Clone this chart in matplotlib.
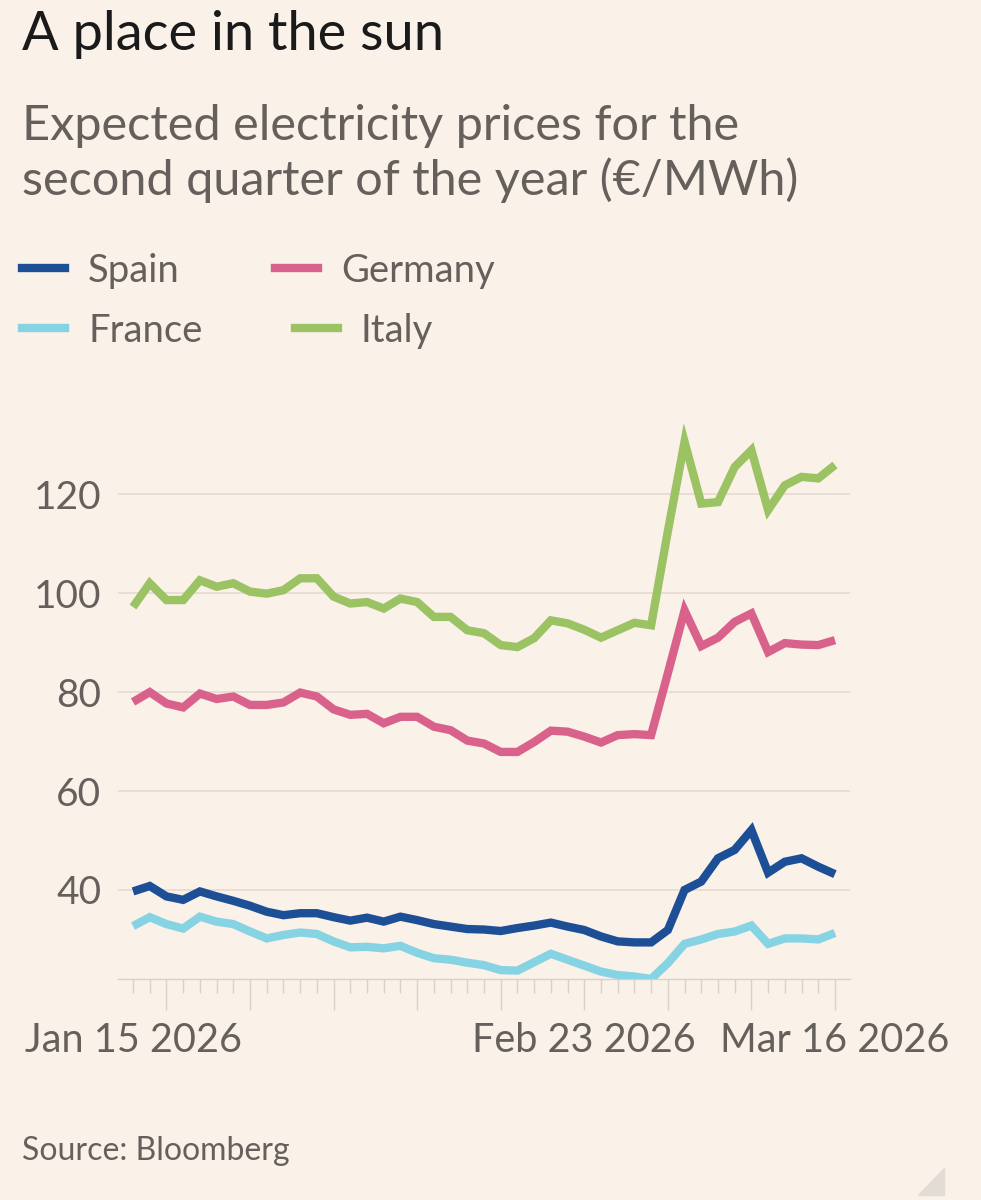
import matplotlib.pyplot as plt
from matplotlib.patches import Polygon
import pandas as pd

# business days Jan 15 - Mar 16 2026
dates = pd.bdate_range("2026-01-15", "2026-03-16")
x = list(range(len(dates)))

spain = [39.7, 40.8, 38.7, 38.0, 39.7, 38.7, 37.8, 36.8, 35.6, 34.9,
         35.3, 35.3, 34.5, 33.8, 34.4, 33.6, 34.6, 33.9, 33.1, 32.6,
         32.1, 32.0, 31.7, 32.3, 32.8, 33.4, 32.6, 31.9, 30.6, 29.6,
         29.4, 29.4, 31.9, 40.0, 41.7, 46.4, 48.1, 52.1, 43.5, 45.7,
         46.4, 44.7, 43.2]
france = [32.7, 34.5, 33.1, 32.2, 34.6, 33.6, 33.1, 31.6, 30.2, 30.9,
          31.4, 31.1, 29.6, 28.4, 28.5, 28.2, 28.7, 27.3, 26.2, 25.9,
          25.3, 24.8, 23.8, 23.7, 25.4, 27.1, 25.9, 24.7, 23.5, 22.8,
          22.5, 22.0, 25.2, 29.1, 30.0, 31.1, 31.6, 32.8, 29.1, 30.2,
          30.2, 30.0, 31.3]
germany = [78.0, 80.0, 77.7, 76.9, 79.7, 78.6, 79.1, 77.4, 77.4, 77.9,
           79.9, 79.1, 76.5, 75.4, 75.6, 73.7, 75.0, 75.0, 73.0, 72.3,
           70.2, 69.6, 67.9, 67.9, 69.9, 72.2, 72.0, 71.0, 69.8, 71.3,
           71.5, 71.3, 83.8, 96.5, 89.3, 91.0, 94.2, 95.9, 88.1, 89.9,
           89.6, 89.5, 90.5]
italy = [97.2, 102.0, 98.6, 98.6, 102.6, 101.3, 102.0, 100.3, 99.9, 100.6,
         103.0, 103.0, 99.3, 97.9, 98.2, 96.9, 98.9, 98.2, 95.2, 95.2,
         92.5, 91.9, 89.5, 89.1, 90.9, 94.5, 93.9, 92.6, 91.0, 92.5,
         94.0, 93.5, 112.5, 130.6, 118.1, 118.4, 125.5, 128.9, 116.8, 121.8,
         123.5, 123.2, 125.9]

series = ["Spain", "France", "Germany", "Italy"]
colors = {"Spain": "#1d4f96", "France": "#86d3e3",
          "Germany": "#d9628c", "Italy": "#9bc263"}
values = {"Spain": spain, "France": france, "Germany": germany, "Italy": italy}

yticks = [40, 60, 80, 100, 120]
xlabels = {0: "Jan 15 2026", 27: "Feb 23 2026", 42: "Mar 16 2026"}

BG = "#faf1e8"
GREY = "#66605c"
W, H = 981, 1200
plt.rcParams["font.family"] = ["Lato", "DejaVu Sans"]

fig = plt.figure(figsize=(W / 100, H / 100), dpi=100, facecolor=BG)


def fx(px):
    return px / W


def fy(py):
    return 1 - py / H


ax = fig.add_axes([fx(118), fy(979), fx(850) - fx(118), fy(420) - fy(979)])
ax.set_facecolor(BG)

for name in ["Germany", "Italy", "France", "Spain"]:
    ax.plot(x, values[name], color=colors[name], lw=6, solid_joinstyle="miter",
            solid_capstyle="butt", zorder=3)

ax.set_xlim(-0.9, 42.9)
ax.set_ylim(22, 135)
ax.set_yticks(yticks)
ax.set_yticklabels([str(v) for v in yticks], fontsize=28, color=GREY)
ax.tick_params(axis="y", length=0, pad=12)
ax.grid(axis="y", color="#e8ddd3", lw=1.3)
ax.set_axisbelow(True)

mondays = [i for i, d in enumerate(dates) if d.weekday() == 0]
ax.set_xticks(mondays)
ax.set_xticks(x, minor=True)
ax.set_xticklabels([])
ax.tick_params(axis="x", which="major", length=22, width=1, color="#d9d0c8")
ax.tick_params(axis="x", which="minor", length=10, width=1, color="#d9d0c8")

for s in ["top", "right", "left"]:
    ax.spines[s].set_visible(False)
ax.spines["bottom"].set_color("#d9d0c8")
ax.spines["bottom"].set_linewidth(1)

trans = ax.get_xaxis_transform()
for i, lab in xlabels.items():
    ax.text(i, -0.13, lab, transform=trans, ha="center", va="baseline",
            fontsize=28.5, color=GREY)

fig.text(fx(22), fy(50), "A place in the sun", fontsize=39, color="#1a1a1a")
fig.text(fx(22), fy(140), "Expected electricity prices for the", fontsize=35,
         color=GREY)
fig.text(fx(22), fy(195), "second quarter of the year (€/MWh)", fontsize=35,
         color=GREY)

# legend
legend_pos = {"Spain": (22, 268), "France": (22, 328),
              "Germany": (275, 268), "Italy": (295, 328)}
for name, (lx, ly) in legend_pos.items():
    fig.add_artist(plt.Line2D([fx(lx), fx(lx + 43)], [fy(ly), fy(ly)],
                              color=colors[name], lw=6))
    fig.text(fx(lx + 66), fy(ly + 14), name, fontsize=27.5, color=GREY)

fig.text(fx(22), fy(1160), "Source: Bloomberg", fontsize=23, color=GREY)

fig.add_artist(Polygon([[fx(944), fy(1168)], [fx(944), fy(1195)], [fx(918), fy(1195)]],
                       closed=True, color="#e3dcd5", transform=fig.transFigure))

fig.savefig("out.png", dpi=100, facecolor=BG)
